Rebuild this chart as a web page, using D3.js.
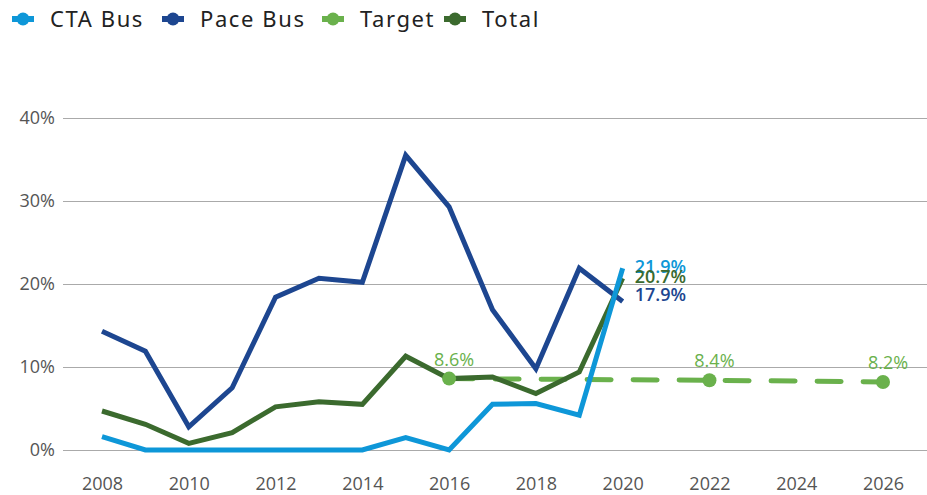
<!DOCTYPE html>
<html>
<head>
    <meta charset="UTF-8">
    <script src="https://d3js.org/d3.v7.min.js"></script>
    <style>
        body { margin: 0; background: #fff; }
        .axis text { font-family: "Open Sans", sans-serif; font-size: 18px; fill: #555; }
        .axis-y .tick line { stroke: #aaa; stroke-width: 1.2; }
        .legend text { font-family: "Noto Sans", sans-serif; font-size: 22px; fill: #222; letter-spacing: 1.6px; }
        .lbl { font-family: "Open Sans", sans-serif; font-size: 18px; }
    </style>
</head>
<body>
    <svg id="chart" width="927" height="495"></svg>

    <script>
        // data
        const years = [2008, 2009, 2010, 2011, 2012, 2013, 2014, 2015, 2016, 2017, 2018, 2019, 2020]
        const ctaBus  = [1.6, 0, 0, 0, 0, 0, 0, 1.5, 0, 5.5, 5.6, 4.2, 21.9]
        const paceBus = [14.3, 11.9, 2.8, 7.5, 18.4, 20.7, 20.2, 35.5, 29.3, 16.9, 9.8, 21.9, 17.9]
        const total   = [4.7, 3.1, 0.8, 2.1, 5.2, 5.8, 5.5, 11.3, 8.6, 8.8, 6.8, 9.4, 20.7]
        const targetYears = [2016, 2022, 2026]
        const target      = [8.6, 8.4, 8.2]
        const yTicks = [0, 10, 20, 30, 40]
        const xTicks = [2008, 2010, 2012, 2014, 2016, 2018, 2020, 2022, 2024, 2026]

        const colors = { cta: "#0e97d8", pace: "#1d4690", target: "#6ab14c", total: "#3b6a2e" }

        let svg = d3.select("#chart")

        let xScale = d3.scaleLinear().domain([2008, 2026]).range([102, 883])
        let yScale = d3.scaleLinear().domain([0, 40]).range([450, 118])

        // gridlines + y labels
        svg.append("g")
            .attr("class", "axis axis-y")
            .attr("transform", "translate(927,0)")
            .call(d3.axisLeft(yScale).tickValues(yTicks).tickSize(864).tickPadding(8).tickFormat(d => d + "%"))
            .call(g => g.select(".domain").remove())

        // x labels
        svg.append("g")
            .attr("class", "axis axis-x")
            .attr("transform", "translate(0,450)")
            .call(d3.axisBottom(xScale).tickValues(xTicks).tickSize(0).tickPadding(27).tickFormat(d3.format("d")))
            .call(g => g.select(".domain").remove())

        let line = d3.line()
            .x(d => xScale(d[0]))
            .y(d => yScale(d[1]))

        // target dashed line drawn first
        let targetPts = targetYears.map((y, i) => [y, target[i]])
        svg.append("path")
            .datum(targetPts)
            .attr("d", line)
            .attr("fill", "none")
            .attr("stroke", colors.target)
            .attr("stroke-width", 5)
            .attr("stroke-linecap", "round")
            .attr("stroke-dasharray", "24,22")

        const series = [
            { key: "pace", values: paceBus },
            { key: "total", values: total },
            { key: "cta", values: ctaBus }
        ]
        series.forEach(s => {
            svg.append("path")
                .datum(years.map((y, i) => [y, s.values[i]]))
                .attr("d", line)
                .attr("fill", "none")
                .attr("stroke", colors[s.key])
                .attr("stroke-width", 5)
                .attr("stroke-linejoin", "miter")
        })

        // target markers and labels
        svg.selectAll(".tdot")
            .data(targetPts)
            .join("circle")
            .attr("class", "tdot")
            .attr("cx", d => xScale(d[0]))
            .attr("cy", d => yScale(d[1]))
            .attr("r", 7)
            .attr("fill", colors.target)

        svg.selectAll(".tlbl")
            .data(targetPts)
            .join("text")
            .attr("class", "lbl tlbl")
            .attr("x", d => xScale(d[0]) + 5)
            .attr("y", d => yScale(d[1]) - 13)
            .attr("text-anchor", "middle")
            .attr("fill", colors.target)
            .text(d => d[1].toFixed(1) + "%")

        // end labels for 2020
        const endLabels = [
            { v: ctaBus[12], c: colors.cta, dy: 5 },
            { v: total[12], c: colors.total, dy: 5 },
            { v: paceBus[12], c: colors.pace, dy: 0 }
        ]
        svg.selectAll(".elbl")
            .data(endLabels)
            .join("text")
            .attr("class", "lbl elbl")
            .attr("x", xScale(2020) + 12)
            .attr("y", d => yScale(d.v) + d.dy)
            .attr("fill", d => d.c)
            .attr("font-weight", 600)
            .attr("font-size", 16)
            .text(d => d.v.toFixed(1) + "%")

        // legend
        const legendItems = [
            { name: "CTA Bus", c: colors.cta, x: 23 },
            { name: "Pace Bus", c: colors.pace, x: 173 },
            { name: "Target", c: colors.target, x: 333 },
            { name: "Total", c: colors.total, x: 455 }
        ]
        let lg = svg.append("g").attr("class", "legend")
        let item = lg.selectAll("g")
            .data(legendItems)
            .join("g")
            .attr("transform", d => "translate(" + d.x + ",19)")
        item.append("line")
            .attr("x1", -11).attr("x2", 11)
            .attr("stroke", d => d.c)
            .attr("stroke-width", 6)
        item.append("circle")
            .attr("r", 6.5)
            .attr("fill", d => d.c)
        item.append("text")
            .attr("x", 27)
            .attr("y", 8)
            .text(d => d.name)
    </script>
</body>
</html>
